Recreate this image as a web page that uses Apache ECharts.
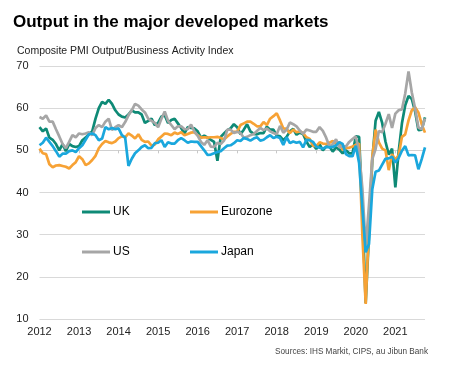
<!DOCTYPE html>
<html>
<head>
<meta charset="utf-8">
<script src="https://cdn.jsdelivr.net/npm/echarts@6/dist/echarts.min.js"></script>
<style>
html,body{margin:0;padding:0;background:#fff;}
#chart{width:452px;height:375px;}
</style>
</head>
<body>
<div id="chart"></div>
<script>
// Tick labels (years) and monthly categories
var years = ['2012','2013','2014','2015','2016','2017','2018','2019','2020','2021'];
var lastMonthOfFinalYear = 10; // data runs to Oct 2021
var categories = [];
years.forEach(function (y, i) {
  var n = (i === years.length - 1) ? lastMonthOfFinalYear : 12;
  for (var m = 1; m <= n; m++) categories.push(y + '-' + (m < 10 ? '0' + m : m));
});

var seriesNames = ['UK', 'Eurozone', 'US', 'Japan'];

var uk = [
  55.5, 54.5, 55.2, 53.0, 52.5, 51.5, 50.0, 51.5, 49.8, 51.5, 51.0, 50.8,
  51.0, 52.4, 53.0, 53.8, 54.5, 57.5, 60.0, 61.5, 61.0, 62.0, 61.0, 59.5,
  58.5, 58.0, 57.8, 58.5, 59.5, 59.0, 59.0, 58.5, 56.5, 57.0, 57.5, 56.0,
  56.5, 58.0, 58.3, 56.5, 57.2, 57.5, 56.4, 55.3, 54.0, 55.5, 55.3, 55.2,
  54.5, 53.0, 53.5, 53.0, 52.5, 52.0, 47.5, 53.2, 54.0, 54.8, 55.2, 56.2,
  55.5, 53.8, 54.9, 56.2, 54.5, 53.9, 53.8, 54.1, 54.1, 55.6, 54.9, 54.9,
  53.5, 53.3, 52.4, 53.2, 54.5, 55.1, 53.7, 54.2, 53.9, 52.1, 50.8, 51.4,
  50.3, 51.5, 50.0, 50.9, 50.9, 49.7, 50.7, 50.2, 49.3, 50.0, 49.3, 49.3,
  53.3, 53.2, 36.0, 13.8, 30.0, 47.7, 57.0, 59.1, 56.5, 52.1, 49.0, 50.4,
  41.2, 49.6, 56.4, 60.7, 62.9, 62.2, 59.2, 54.8, 54.9, 57.8
];
var eurozone = [
  50.4, 49.3, 49.1, 46.7, 46.0, 46.4, 46.5, 46.3, 46.1, 45.7, 46.5, 47.2,
  48.6, 47.9, 46.5, 46.9, 47.7, 48.7, 50.5, 51.5, 52.2, 51.9, 51.7, 52.1,
  52.9, 53.3, 53.1, 54.0, 53.5, 52.8, 53.8, 52.5, 52.0, 52.1, 51.1, 51.4,
  52.6, 53.3, 54.0, 53.9, 53.6, 54.2, 53.9, 54.3, 53.6, 53.9, 54.2, 54.3,
  53.6, 53.0, 53.1, 53.0, 53.1, 53.1, 53.2, 52.9, 52.6, 53.3, 53.9, 54.4,
  54.4, 56.0, 56.4, 56.8, 56.8, 56.3, 55.7, 55.7, 56.7, 56.0, 57.5, 58.1,
  58.8, 57.1, 55.2, 55.1, 54.1, 54.9, 54.3, 54.5, 54.1, 53.1, 52.7, 51.1,
  51.0, 51.9, 51.6, 51.5, 51.8, 52.2, 51.5, 51.9, 50.1, 50.6, 50.6, 50.9,
  51.3, 51.6, 29.7, 13.6, 31.9, 48.5, 54.9, 51.9, 50.4, 50.0, 45.3, 49.1,
  47.8, 48.8, 53.2, 53.8, 57.1, 59.5, 60.2, 59.0, 56.2, 54.2
];
var us = [
  57.9, 57.5, 58.3, 56.8, 56.8, 55.0, 53.3, 51.5, 50.5, 52.0, 53.6, 53.1,
  54.0, 53.8, 54.0, 54.3, 53.6, 55.3, 56.0, 55.5, 56.8, 57.5, 54.8, 55.5,
  56.0, 55.5, 56.7, 58.3, 59.5, 61.0, 60.6, 59.7, 59.0, 57.5, 57.0, 56.5,
  55.5, 57.5, 59.2, 57.0, 56.0, 55.0, 55.7, 55.7, 55.0, 55.0, 56.1, 54.5,
  53.5, 52.0, 51.3, 52.4, 50.9, 50.8, 51.8, 51.5, 52.3, 54.9, 54.9, 54.1,
  54.4, 54.1, 53.0, 53.2, 53.6, 53.9, 54.6, 55.3, 54.8, 55.2, 54.5, 54.1,
  53.8, 55.8, 54.2, 54.9, 56.6, 56.2, 55.7, 54.7, 53.9, 54.9, 54.7, 54.4,
  54.4, 55.5, 54.6, 53.0, 50.9, 51.5, 52.6, 50.7, 51.0, 50.9, 52.0, 52.7,
  53.3, 49.6, 40.9, 27.0, 37.0, 47.9, 50.3, 54.6, 54.3, 56.3, 58.6, 55.3,
  58.7, 59.5, 59.7, 63.5, 68.7, 63.7, 59.9, 55.4, 55.0, 57.6
];
var japan = [
  51.2, 51.8, 53.0, 52.0, 51.0, 49.8, 48.5, 49.2, 49.2, 49.8, 50.0, 49.6,
  50.5, 51.2, 52.5, 53.8, 54.0, 53.6, 52.4, 52.8, 55.5, 55.0, 55.3, 55.0,
  55.2, 53.6, 53.0, 46.3, 48.0, 49.3, 50.0, 50.8, 51.2, 50.5, 50.6, 51.7,
  51.8, 52.4, 50.8, 51.9, 51.6, 51.6, 52.4, 52.9, 52.4, 51.8, 52.1, 52.0,
  52.0, 51.0, 50.0, 48.9, 49.0, 49.3, 49.6, 49.8, 50.5, 51.1, 51.2, 51.7,
  52.4, 52.2, 52.9, 52.7, 52.3, 52.8, 53.1, 52.3, 52.5, 53.1, 53.6, 52.9,
  53.2, 52.9, 51.3, 53.1, 51.7, 52.1, 51.8, 52.0, 50.7, 52.5, 52.4, 52.0,
  50.9, 50.6, 50.4, 50.8, 50.7, 50.8, 51.2, 51.9, 51.5, 49.1, 48.6, 48.6,
  51.1, 47.0, 36.2, 25.8, 27.8, 40.8, 44.9, 45.2, 46.6, 48.0, 48.1, 48.5,
  47.1, 48.2, 49.9, 51.0, 48.8, 48.9, 48.8, 45.5, 47.9, 50.7
];

var colors = {UK: '#0e8a76', Eurozone: '#f7a235', US: '#a6a6a6', Japan: '#1aa7dd'};
var dataByName = {UK: uk, Eurozone: eurozone, US: us, Japan: japan};

var FONT = '"Liberation Sans", Arial, sans-serif';
var yMin = 10, yMax = 70, yStep = 10, crossAt = 50;
var gridTop = 66, gridBottom = 56, chartH = 375;
var gridH = chartH - gridTop - gridBottom;

function legendAt(name, left, top) {
  return {
    data: [name], left: left, top: top, padding: 0,
    icon: 'rect', itemWidth: 28, itemHeight: 3, itemGap: 0,
    selectedMode: false,
    textStyle: {fontFamily: FONT, fontSize: 12, color: '#000', padding: [0, 0, 0, -2]}
  };
}

var chart = echarts.init(document.getElementById('chart'), null, {renderer: 'canvas'});
chart.setOption({
  animation: false,
  backgroundColor: '#fff',
  title: [
    {text: 'Output in the major developed markets', left: 13, top: 14, padding: 0,
     textStyle: {fontFamily: FONT, fontSize: 17, fontWeight: 'bold', color: '#000'}},
    {text: 'Composite PMI Output/Business Activity Index', left: 17, top: 46, padding: 0,
     textStyle: {fontFamily: FONT, fontSize: 10.5, fontWeight: 'normal', color: '#222'}},
    {text: 'Sources: IHS Markit, CIPS, au Jibun Bank', right: 24, top: 348, padding: 0,
     textStyle: {fontFamily: FONT, fontSize: 8.2, fontWeight: 'normal', color: '#444'}}
  ],
  legend: [
    legendAt('UK', 82, 206),
    legendAt('Eurozone', 190, 206),
    legendAt('US', 82, 246),
    legendAt('Japan', 190, 246)
  ],
  grid: {left: 39.5, right: 27, top: gridTop, bottom: gridBottom},
  xAxis: [
    {
      type: 'category', data: categories, boundaryGap: false, position: 'bottom',
      axisLine: {show: false}, axisTick: {show: false},
      axisLabel: {
        interval: function (i) { return i % 12 === 0; },
        formatter: function (v) { return v.slice(0, 4); },
        fontFamily: FONT, fontSize: 11, color: '#222', margin: 7
      },
      splitLine: {show: false}
    },
    {
      type: 'category', data: categories, boundaryGap: false, position: 'top',
      offset: -gridH * (yMax - crossAt) / (yMax - yMin),
      axisLine: {show: true, lineStyle: {color: '#d0d0d0', width: 1}},
      axisTick: {show: true, inside: true, length: 3, interval: function (i) { return i % 12 === 0; },
                 lineStyle: {color: '#c8c8c8'}},
      axisLabel: {show: false}
    }
  ],
  yAxis: {
    type: 'value', min: yMin, max: yMax, interval: yStep,
    axisLine: {show: false}, axisTick: {show: false},
    axisLabel: {fontFamily: FONT, fontSize: 11, color: '#222', margin: 11},
    splitLine: {lineStyle: {color: '#d9d9d9', width: 1}}
  },
  series: ['UK', 'Eurozone', 'US', 'Japan'].map(function (n) {
    return {
      name: n, type: 'line', data: dataByName[n], xAxisIndex: 0,
      symbol: 'none', smooth: false,
      lineStyle: {color: colors[n], width: 2.7},
      itemStyle: {color: colors[n]}
    };
  })
});
</script>
</body>
</html>
